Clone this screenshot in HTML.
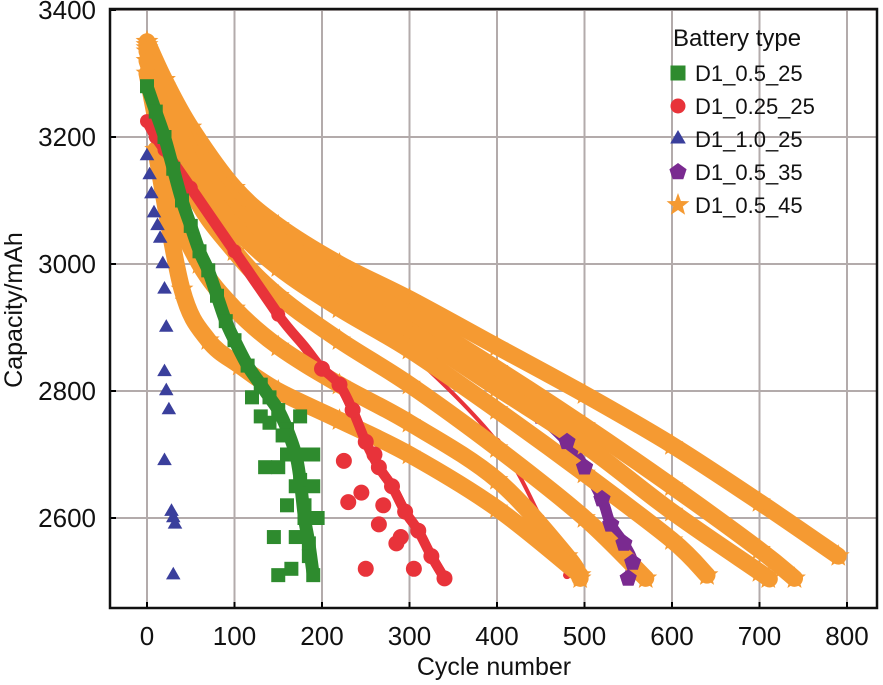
<!DOCTYPE html>
<html><head><meta charset="utf-8"><style>
body{margin:0;background:#fff;}
svg{display:block;font-family:"Liberation Sans",Arial,sans-serif;}
</style></head><body>
<svg id="chart" width="883" height="685" viewBox="0 0 883 685"></svg>
<script>
const xTicks=[0,100,200,300,400,500,600,700,800];
const yTicks=[2600,2800,3000,3200,3400];
const seriesNames=["D1_0.5_25","D1_0.25_25","D1_1.0_25","D1_0.5_35","D1_0.5_45"];
const seriesColors=["#2e8b2e","#e8333a","#3a3f9c","#7a2a90","#f59a32"];
// orange (D1_0.5_45) curves
const orangeA_x=[0,20,50,100,150,220,300,400,500,600,700,790];
const orangeA_y=[3350,3290,3215,3120,3060,3000,2945,2870,2795,2715,2625,2540];
const orangeB_x=[0,20,50,100,150,220,300,400,500,600,700,740];
const orangeB_y=[3345,3280,3195,3100,3040,2980,2920,2835,2745,2650,2550,2505];
const orangeC_x=[0,50,100,150,220,300,400,500,600,700,710];
const orangeC_y=[3340,3180,3085,3020,2960,2895,2805,2715,2610,2515,2505];
const orangeD_x=[0,50,100,150,220,300,400,500,600,640];
const orangeD_y=[3335,3160,3060,2995,2930,2865,2770,2670,2565,2510];
const orangeE_x=[0,50,100,150,220,300,400,500,570];
const orangeE_y=[3320,3120,3020,2950,2880,2810,2710,2600,2505];
const orangeF_x=[0,30,60,100,150,220,300,400,480,495];
const orangeF_y=[3300,3100,3000,2930,2870,2810,2750,2660,2540,2505];
const orangeG_x=[10,40,70,106,150,220,300,400,495];
const orangeG_y=[3180,2960,2880,2840,2800,2754,2700,2615,2510];
// purple
const purple_x=[0,20,50,100,200,300,400,450,480,500,520,530,545,555,550];
const purple_y=[3320,3250,3180,3090,2990,2920,2820,2760,2720,2680,2630,2590,2560,2530,2505];
// red
const red_x=[0,10,20,50,100,150,180,200,220,235,250,265,280,295,310,325,340];
const red_y=[3225,3200,3180,3120,3020,2920,2870,2835,2810,2770,2720,2680,2650,2610,2580,2540,2505];
const red2_x=[225,245,265,285,250,305,260,290,230,270];
const red2_y=[2690,2640,2590,2560,2520,2520,2700,2570,2625,2620];
const red3_x=[100,200,300,400,450,480];
const red3_y=[3060,2960,2860,2720,2600,2510];
// green
const green_x=[0,10,20,30,40,50,60,70,80,90,100,115,130,140,150,160,170,175,180,185,190];
const green_y=[3280,3240,3200,3150,3100,3060,3020,2990,2950,2910,2880,2840,2810,2790,2770,2740,2700,2660,2600,2560,2510];
const green2_x=[120,140,150,160,170,180,190,145,165,185,155,175,195,150,170,130,160,180,135,190];
const green2_y=[2790,2750,2680,2620,2570,2700,2650,2570,2520,2540,2730,2760,2600,2510,2650,2760,2700,2620,2680,2700];
// blue
const blue_x=[0,3,5,8,12,15,18,20,22,20,22,25,20,28,30,32,30];
const blue_y=[3170,3140,3110,3080,3060,3040,3000,2960,2900,2830,2800,2770,2690,2610,2600,2590,2510];

const NS="http://www.w3.org/2000/svg";
const svg=document.getElementById('chart');
const L=110,R=877,T=9,B=608;
const xs=v=>147+v*0.875;
const ys=v=>10+(3400-v)*0.635;
function el(t,a,p){const e=document.createElementNS(NS,t);for(const k in a)e.setAttribute(k,a[k]);(p||svg).appendChild(e);return e;}

xTicks.forEach(t=>{const g=el('line',{x1:xs(t),x2:xs(t),y1:T,y2:B,stroke:'#b3abab','stroke-width':2});


const tk=el('line',{x1:xs(t),x2:xs(t),y1:B-6,y2:B,stroke:'#000','stroke-width':2});


const lb=el('text',{x:xs(t),y:645,'text-anchor':'middle','font-size':26,fill:'#111'});lb.textContent=t;

});
yTicks.forEach(t=>{const g=el('line',{x1:L,x2:R,y1:ys(t),y2:ys(t),stroke:'#b3abab','stroke-width':2});


const tk=el('line',{x1:L,x2:L+6,y1:ys(t),y2:ys(t),stroke:'#000','stroke-width':2});


const lb=el('text',{x:96,y:ys(t)+9,'text-anchor':'end','font-size':26,fill:'#111'});lb.textContent=t;

});

function marker(type,x,y,c,s,parent){
 let e;
 if(type==='square')e=el('rect',{x:x-s/2,y:y-s/2,width:s,height:s,fill:c},parent);
 else if(type==='circle')e=el('circle',{cx:x,cy:y,r:s/2,fill:c},parent);
 else{let n=type==='tri'?3:type==='pent'?5:10;let pts=[];for(let i=0;i<n;i++){const a=-Math.PI/2+i*2*Math.PI/n;const r=(type==='star'&&i%2)?s*0.25:s*0.6;pts.push((x+r*Math.cos(a)).toFixed(1)+','+(y+r*Math.sin(a)).toFixed(1));}
 e=el('polygon',{points:pts.join(' '),fill:c},parent);}
 return e;
}
function smoothPath(xa,ya){
 const P=xa.map((x,i)=>[xs(x),ys(ya[i])]);
 let d='M'+P[0][0]+','+P[0][1];
 for(let i=0;i<P.length-1;i++){
  const p0=P[Math.max(0,i-1)],p1=P[i],p2=P[i+1],p3=P[Math.min(P.length-1,i+2)];
  const c1=[p1[0]+(p2[0]-p0[0])/6,p1[1]+(p2[1]-p0[1])/6];
  const c2=[p2[0]-(p3[0]-p1[0])/6,p2[1]-(p3[1]-p1[1])/6];
  d+=' C'+c1.join(',')+' '+c2.join(',')+' '+p2.join(',');
 }
 return d;
}
function drawSeries(xa,ya,type,c,s,lw,name,line,markers){
 const g=el('g',{});
 
 
 if(line){const p=el('path',{d:smoothPath(xa,ya),fill:'none',stroke:c,'stroke-width':lw,'stroke-linejoin':'round','stroke-linecap':'round'},g);
 
 }
 if(markers===false)return;
 xa.forEach((x,i)=>{const m=marker(type,xs(x),ys(ya[i]),c,s,g);
 
 });
}
const O=seriesColors[4];
drawSeries(red3_x,red3_y,'circle',seriesColors[1],8,4,'d1-0.25-25-trace2',true);
drawSeries(red_x,red_y,'circle',seriesColors[1],16,10,'d1-0.25-25-line',true,false);
drawSeries(purple_x,purple_y,'pent',seriesColors[3],15,11,'d1-0.5-35-series',true);
[[orangeA_x,orangeA_y],[orangeB_x,orangeB_y],[orangeC_x,orangeC_y],[orangeD_x,orangeD_y],[orangeE_x,orangeE_y],[orangeF_x,orangeF_y],[orangeG_x,orangeG_y]].forEach((c,i)=>drawSeries(c[0],c[1],'star',O,20,17,'d1-0.5-45-curve-'+(i+1),true));
drawSeries(purple_x.slice(8),purple_y.slice(8),'pent',seriesColors[3],15,0,'d1-0.5-35-end',false);
drawSeries(red_x.slice(7),red_y.slice(7),'circle',seriesColors[1],16,10,'d1-0.25-25-series',true);
drawSeries(red_x.slice(0,6),red_y.slice(0,6),'circle',seriesColors[1],14,11,'d1-0.25-25-early',true);
drawSeries(red2_x,red2_y,'circle',seriesColors[1],16,0,'d1-0.25-25-scatter',false);
drawSeries(green_x,green_y,'square',seriesColors[0],14,13,'d1-0.5-25-series',true);
drawSeries(green2_x,green2_y,'square',seriesColors[0],14,0,'d1-0.5-25-scatter',false);
drawSeries(blue_x,blue_y,'tri',seriesColors[2],14,0,'d1-1.0-25-series',false);

const f=el('rect',{x:L,y:T,width:R-L,height:B-T,fill:'none',stroke:'#111','stroke-width':2.5});


const xt=el('text',{x:494,y:675,'text-anchor':'middle','font-size':25,fill:'#111'});xt.textContent='Cycle number';


const yt=el('text',{x:0,y:0,'text-anchor':'middle','font-size':25,fill:'#111',transform:'translate(22,310) rotate(-90)'});yt.textContent='Capacity/mAh';


const lg=el('g',{});


const lt=el('text',{x:673,y:46,'font-size':24,fill:'#111'},lg);lt.textContent='Battery type';


const types=['square','circle','tri','pent','star'];
seriesNames.forEach((n,i)=>{const y=73+i*33;
 const m=marker(types[i],678,y,seriesColors[i],types[i]==='star'?20:15,lg);
 
 
 const t=el('text',{x:695,y:y+8,'font-size':22,fill:'#111'},lg);t.textContent=n;
 
 
});
</script>
</body></html>
